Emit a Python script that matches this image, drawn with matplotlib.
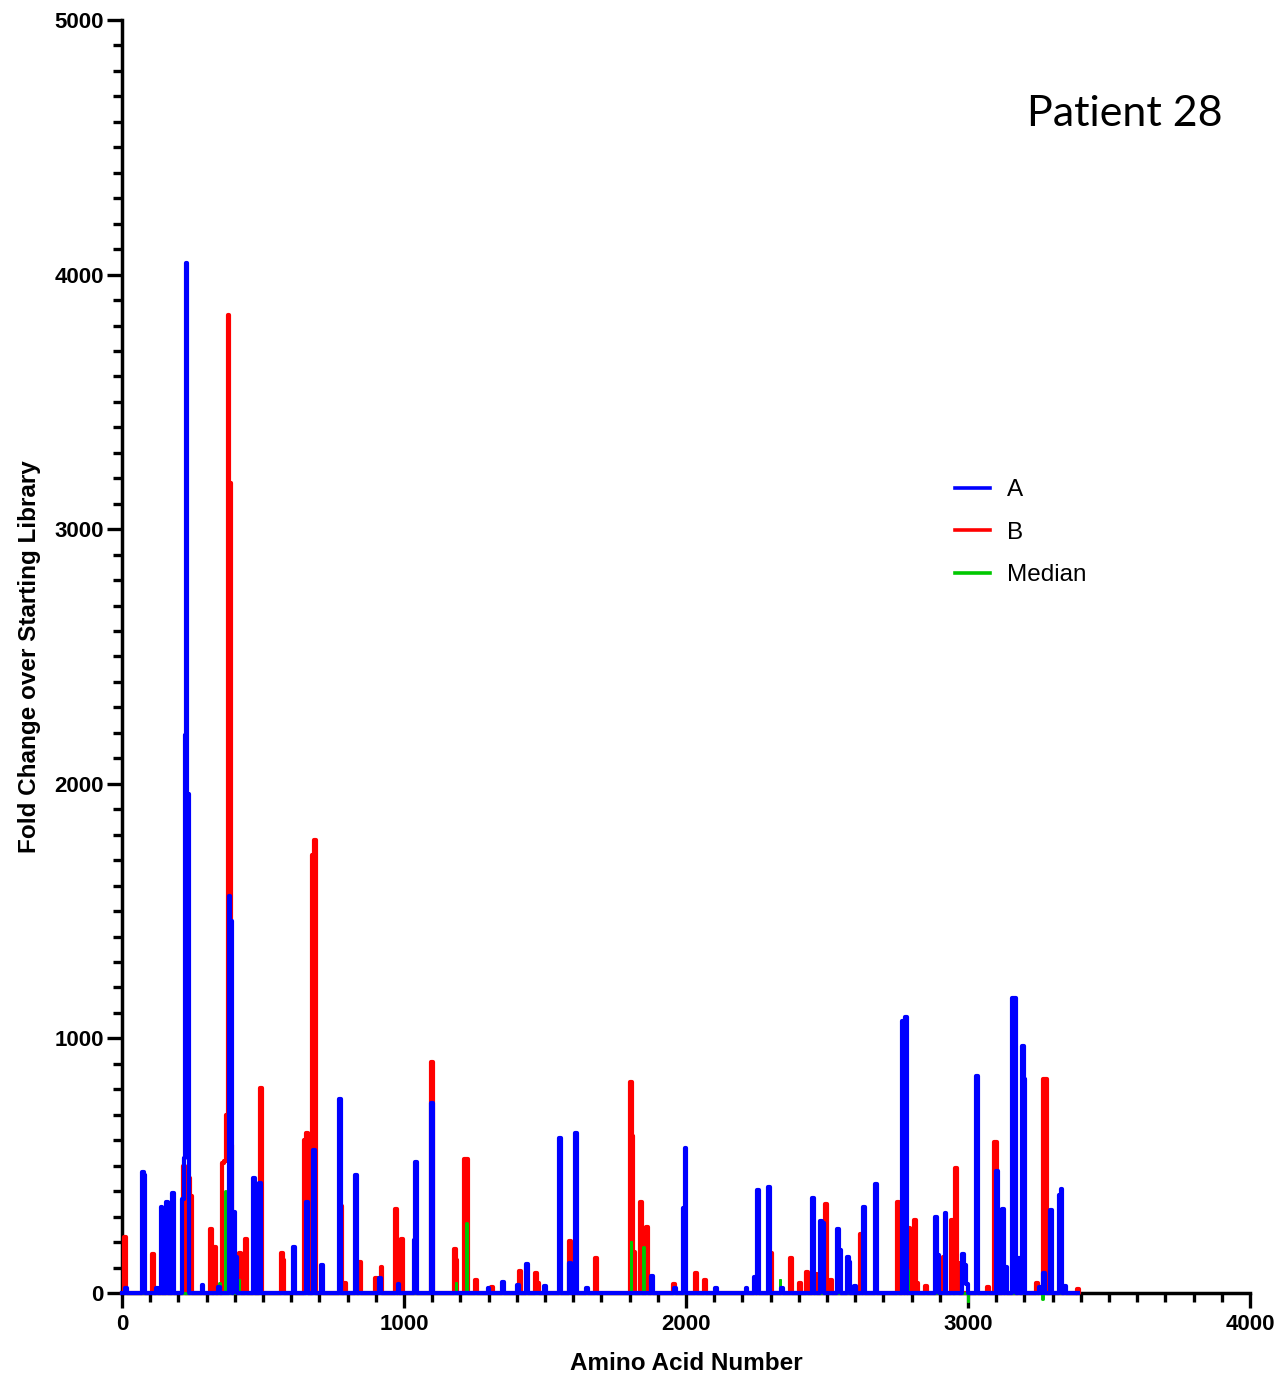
import numpy as np
import matplotlib
matplotlib.use("Agg")
import matplotlib.pyplot as plt
from matplotlib.ticker import MultipleLocator

# Peaks: amino acid position -> fold change
a_pos = [15, 75, 80, 125, 140, 160, 180, 215, 222, 226, 230, 234, 285, 345,
         382, 386, 398, 404, 468, 490, 610, 655, 680, 710, 773, 830, 915, 980,
         1038, 1043, 1100, 1300, 1352, 1405, 1437, 1500, 1553, 1589, 1610, 1650,
         1880, 1960, 1993, 1997, 2106, 2215, 2245, 2255, 2295, 2340, 2450, 2479,
         2485, 2540, 2545, 2574, 2580, 2600, 2631, 2674, 2769, 2780, 2885, 2893,
         2920, 2983, 2990, 2998, 3033, 3103, 3125, 3135, 3158, 3166, 3180, 3195,
         3200, 3255, 3270, 3295, 3326, 3332, 3345]
a_val = [20, 475, 465, 20, 338, 357, 393, 369, 530, 2190, 4045, 1960, 30, 25,
         1560, 1460, 320, 140, 450, 433, 180, 357, 560, 110, 762, 463, 60, 35,
         210, 515, 746, 20, 45, 30, 113, 27, 608, 117, 628, 20,
         67, 20, 333, 570, 20, 20, 62, 405, 416, 20, 373, 283,
         275, 250, 170, 141, 120, 27, 338, 428, 1070, 1084, 300, 150,
         316, 153, 110, 34, 851, 479, 330, 103, 1160, 1160, 136, 971,
         842, 25, 77, 325, 385, 408, 27]

b_pos = [10, 110, 220, 240, 245, 315, 330, 358, 365, 372, 378, 383, 387, 418,
         440, 493, 568, 573, 650, 656, 678, 684, 778, 790, 845, 900, 915, 920,
         972, 993, 1100, 1180, 1186, 1217, 1225, 1255, 1312, 1411, 1468, 1475,
         1589, 1680, 1805, 1810, 1815, 1840, 1862, 1958, 2035, 2067, 2303, 2373,
         2405, 2429, 2462, 2497, 2515, 2620, 2752, 2790, 2812, 2820, 2850, 2915,
         2944, 2958, 2965, 3070, 3096, 3100, 3245, 3270, 3276, 3390]
b_val = [220, 153, 500, 450, 380, 250, 180, 510, 520, 700, 3840, 3180, 580, 157,
         212, 805, 157, 130, 600, 628, 1720, 1780, 340, 40, 122, 60, 60, 102,
         330, 212, 908, 172, 130, 526, 526, 50, 25, 87, 78, 40,
         205, 138, 829, 617, 160, 357, 260, 37, 80, 50, 157, 138,
         40, 83, 75, 350, 50, 232, 357, 256, 287, 38, 27, 141,
         287, 490, 118, 22, 593, 594, 40, 839, 839, 15]

med_pos = [345, 368, 415, 1185, 1222, 1805, 1850, 2333, 2540, 2785, 2919, 3000, 3195, 3265]
med_val = [40, 400, 50, 40, 275, 200, 180, 50, 95, 90, 130, -30, 130, -25]

series_start, series_end = 0, 3390


def spikes(xs, hs, start, end, half=3):
    # turn peak list into a line that sits on zero between peaks
    px, py = [start], [0.0]
    prev = None
    for x, h in sorted(zip(xs, hs)):
        l, r = x - half, x + half
        if prev is not None and l - prev[0] < 4:
            m = (prev[0] + l) / 2
            px[-1] = m
            px += [m, r]
            py += [h, h]
        else:
            if prev is not None:
                px.append(prev[0]); py.append(0.0)
            px += [l, l, r]
            py += [0.0, h, h]
        prev = (r, h)
    px += [prev[0], end]
    py += [0.0, 0.0]
    return np.array(px), np.array(py)


plt.rcParams['font.family'] = ['Liberation Sans', 'DejaVu Sans']

fig = plt.figure(figsize=(12.81, 13.76), dpi=100)
ax = fig.add_axes([122/1281, 1 - 1293/1376, 1128/1281, 1273/1376])

lw = 3.0
bx, by = spikes(b_pos, b_val, series_start, series_end)
ax.plot(bx, by, color='#ff0000', lw=lw, label='B', zorder=3, clip_on=False)
mx, my = spikes(med_pos, med_val, series_start, series_end, half=1)
ax.plot(mx, my, color='#00c800', lw=lw * 0.7, label='Median', zorder=3.5, clip_on=False)
ax_x, ax_y = spikes(a_pos, a_val, series_start, series_end)
ax.plot(ax_x, ax_y, color='#0000ff', lw=lw, label='A', zorder=4, clip_on=False)

ax.set_xlim(0, 4000)
ax.set_ylim(0, 5000)
for s in ['top', 'right']:
    ax.spines[s].set_visible(False)
for s in ['left', 'bottom']:
    ax.spines[s].set_linewidth(2.5)

ax.xaxis.set_major_locator(MultipleLocator(1000))
ax.xaxis.set_minor_locator(MultipleLocator(100))
ax.yaxis.set_major_locator(MultipleLocator(1000))
ax.yaxis.set_minor_locator(MultipleLocator(100))
ax.tick_params(which='major', length=11, width=2.4, labelsize=16, pad=2)
ax.tick_params(which='minor', length=6.5, width=2.4)
ax.tick_params(axis='x', which='major', pad=4)
for t in ax.get_xticklabels() + ax.get_yticklabels():
    t.set_fontweight('bold')

ax.set_xlabel('Amino Acid Number', fontsize=17.5, fontweight='bold', labelpad=12)
ax.set_ylabel('Fold Change over Starting Library', fontsize=17.5, fontweight='bold', labelpad=10)

h, l = ax.get_legend_handles_labels()
order = [l.index('A'), l.index('B'), l.index('Median')]
leg = fig.legend([h[i] for i in order], [l[i] for i in order],
                 loc='upper left', bbox_to_anchor=(955/1281, 1 - 479/1376),
                 frameon=False, fontsize=17.5, handlelength=1.45, handletextpad=0.7,
                 labelspacing=0.85, borderpad=0, borderaxespad=0)
for line in leg.get_lines():
    line.set_linewidth(2.6)

fig.text(1027/1281, 1 - 126/1376, 'Patient 28', fontsize=31, family='Lato',
         ha='left', va='baseline')

fig.savefig('out.png', dpi=100)
